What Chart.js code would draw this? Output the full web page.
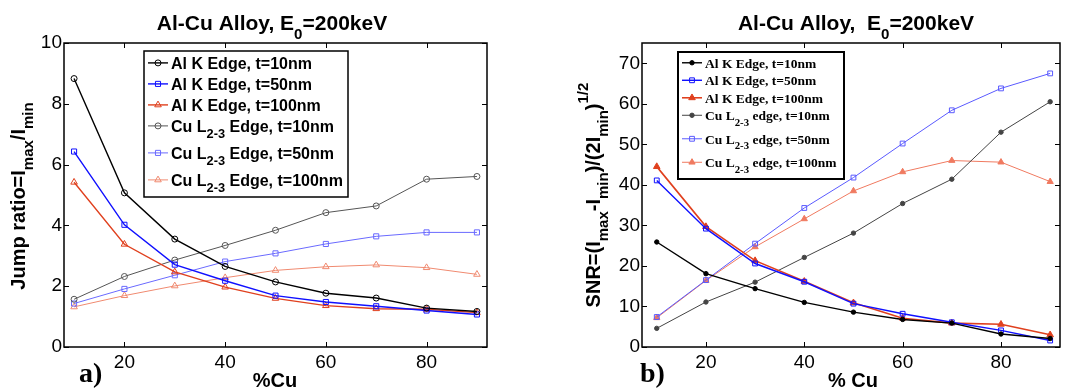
<!DOCTYPE html>
<html>
<head>
<meta charset="utf-8">
<script src="https://cdn.jsdelivr.net/npm/chart.js@4.4.0/dist/chart.umd.min.js"></script>
<style>
	body { margin: 0; background: #fff; }
	canvas { position: absolute; top: 0; }
</style>
</head>
<body>
<canvas id="chartA" width="535" height="390" style="left:0px"></canvas>
<canvas id="chartB" width="540" height="390" style="left:535px"></canvas>
<script>
// ---- data ----
const pctCu = [10, 20, 30, 40, 50, 60, 70, 80, 90];
const xTicks = [20, 40, 60, 80];
const jumpTicks = [0, 2, 4, 6, 8, 10];
const snrTicks = [0, 10, 20, 30, 40, 50, 60, 70];

const labelsA = [
	'Al K Edge, t=10nm',
	'Al K Edge, t=50nm',
	'Al K Edge, t=100nm',
	'Cu L_{2-3} Edge, t=10nm',
	'Cu L_{2-3} Edge, t=50nm',
	'Cu L_{2-3} Edge, t=100nm'
];
const labelsB = [
	'Al K Edge, t=10nm',
	'Al K Edge, t=50nm',
	'Al K Edge, t=100nm',
	'Cu L_{2-3} edge, t=10nm',
	'Cu L_{2-3} edge, t=50nm',
	'Cu L_{2-3} edge, t=100nm'
];

const jumpAlK10 = [8.83, 5.07, 3.55, 2.65, 2.14, 1.77, 1.61, 1.28, 1.17];
const jumpAlK50 = [6.43, 4.02, 2.71, 2.18, 1.69, 1.48, 1.34, 1.20, 1.07];
const jumpAlK100 = [5.42, 3.38, 2.47, 1.97, 1.60, 1.36, 1.26, 1.24, 1.13];
const jumpCuL10 = [1.57, 2.32, 2.86, 3.34, 3.84, 4.42, 4.64, 5.52, 5.61];
const jumpCuL50 = [1.43, 1.91, 2.36, 2.81, 3.08, 3.39, 3.64, 3.77, 3.77];
const jumpCuL100 = [1.32, 1.69, 2.01, 2.28, 2.52, 2.64, 2.70, 2.61, 2.39];

const snrAlK10 = [25.9, 18.1, 14.4, 11.0, 8.6, 6.8, 5.9, 3.2, 2.1];
const snrAlK50 = [41.1, 29.2, 20.6, 16.1, 10.7, 8.2, 6.1, 4.1, 1.6];
const snrAlK100 = [44.5, 29.7, 21.3, 16.2, 10.9, 7.1, 5.9, 5.6, 3.0];
const snrCuL10 = [4.6, 11.1, 16.0, 22.1, 28.1, 35.4, 41.4, 53.0, 60.5];
const snrCuL50 = [7.4, 16.5, 25.5, 34.3, 41.8, 50.2, 58.4, 63.8, 67.5];
const snrCuL100 = [7.2, 16.4, 24.7, 31.6, 38.5, 43.2, 46.0, 45.6, 40.8];

// ---- styles ----
const NONE = 'rgba(0,0,0,0)';
const stylesA = [
	{ color: '#000000', width: 1.4, point: 'circle', radius: 3, fill: NONE },
	{ color: '#1010ff', width: 1.4, point: 'rect', radius: 3.6, fill: NONE },
	{ color: '#e0401e', width: 1.4, point: 'triangle', radius: 3.8, fill: NONE },
	{ color: '#555555', width: 1, point: 'circle', radius: 3, fill: NONE },
	{ color: '#6a6aff', width: 1, point: 'rect', radius: 3.6, fill: NONE },
	{ color: '#f08a70', width: 1, point: 'triangle', radius: 3.8, fill: NONE }
];
const stylesB = [
	{ color: '#000000', width: 1.4, point: 'circle', radius: 2.2, fill: '#000000' },
	{ color: '#1010ff', width: 1.4, point: 'rect', radius: 3.4, fill: NONE },
	{ color: '#e0401e', width: 1.6, point: 'triangle', radius: 3.8, fill: '#e0401e' },
	{ color: '#444444', width: 1, point: 'circle', radius: 2.2, fill: '#444444' },
	{ color: '#5a5aff', width: 1, point: 'rect', radius: 3.4, fill: NONE },
	{ color: '#f07a60', width: 1, point: 'triangle', radius: 3.6, fill: '#f07a60' }
];

const SANS = "'Liberation Sans', Arial, sans-serif";
const SERIF = "'Liberation Serif', 'Times New Roman', serif";

// ---- rich text (sub/superscripts written as _{..} and ^{..}) ----
function richParts(str) {
	const out = [];
	const re = /([_^])\{([^}]*)\}/g;
	let last = 0, m;
	while ((m = re.exec(str))) {
		if (m.index > last) out.push({ t: str.slice(last, m.index), mode: '' });
		out.push({ t: m[2], mode: m[1] });
		last = re.lastIndex;
	}
	if (last < str.length) out.push({ t: str.slice(last), mode: '' });
	return out;
}

function drawRich(ctx, str, x, y, o) {
	const parts = richParts(str);
	const scale = o.scriptScale || 0.72;
	ctx.save();
	ctx.translate(x, y);
	if (o.rotate) ctx.rotate(o.rotate);
	ctx.fillStyle = o.color || '#000';
	ctx.textBaseline = 'alphabetic';
	ctx.textAlign = 'left';
	const fontOf = p => `${o.weight || 'bold'} ${p.mode ? o.size * scale : o.size}px ${o.family}`;
	let total = 0;
	parts.forEach(p => {
		ctx.font = fontOf(p);
		p.w = ctx.measureText(p.t).width;
		total += p.w;
	});
	let cx = o.align === 'center' ? -total / 2 : 0;
	parts.forEach(p => {
		ctx.font = fontOf(p);
		const dy = p.mode === '_' ? o.size * 0.42 : (p.mode === '^' ? -o.size * 0.6 : 0);
		ctx.fillText(p.t, cx, dy);
		cx += p.w;
	});
	ctx.restore();
}

// box round the plot with inward ticks on all four sides
const framePlugin = {
	id: 'frame',
	afterDraw(chart, args, opts) {
		const { ctx, chartArea: a, scales } = chart;
		const len = opts.tickLen || 5;
		ctx.save();
		ctx.strokeStyle = '#000';
		ctx.lineWidth = 1.5;
		ctx.strokeRect(a.left, a.top, a.right - a.left, a.bottom - a.top);
		ctx.lineWidth = 1;
		ctx.beginPath();
		scales.x.ticks.forEach(t => {
			const px = Math.round(scales.x.getPixelForValue(t.value)) + 0.5;
			ctx.moveTo(px, a.bottom); ctx.lineTo(px, a.bottom - len);
			ctx.moveTo(px, a.top); ctx.lineTo(px, a.top + len);
		});
		scales.y.ticks.forEach(t => {
			const py = Math.round(scales.y.getPixelForValue(t.value)) + 0.5;
			ctx.moveTo(a.left, py); ctx.lineTo(a.left + len, py);
			ctx.moveTo(a.right, py); ctx.lineTo(a.right - len, py);
		});
		ctx.stroke();
		ctx.restore();
	}
};

// titles, axis titles, panel letters and the boxed legend
const annotPlugin = {
	id: 'annot',
	afterDraw(chart, args, opts) {
		const ctx = chart.ctx;
		opts.texts.forEach(t => drawRich(ctx, t.str, t.x, t.y, t));

		const lg = opts.legend;
		const [bx, by, bw, bh] = lg.box;
		ctx.save();
		ctx.fillStyle = '#fff';
		ctx.fillRect(bx, by, bw, bh);
		ctx.strokeStyle = '#000';
		ctx.lineWidth = lg.border;
		ctx.strokeRect(bx, by, bw, bh);
		let y = lg.y0;
		chart.data.datasets.forEach((ds, i) => {
			if (i > 0) {
				const prevSub = chart.data.datasets[i - 1].label.includes('_{');
				y += prevSub ? lg.gapSub : lg.gapPlain;
			}
			const my = y - lg.size * 0.35;
			ctx.strokeStyle = ds.borderColor;
			ctx.lineWidth = ds.borderWidth;
			ctx.beginPath();
			ctx.moveTo(lg.lineX0, my);
			ctx.lineTo(lg.lineX1, my);
			ctx.stroke();
			ctx.fillStyle = ds.pointBackgroundColor;
			ctx.strokeStyle = ds.borderColor;
			ctx.lineWidth = 1;
			Chart.helpers.drawPoint(ctx, {
				pointStyle: ds.pointStyle, radius: ds.pointRadius, rotation: 0, borderWidth: 1
			}, (lg.lineX0 + lg.lineX1) / 2, my);
			drawRich(ctx, ds.label, lg.textX, y, { size: lg.size, family: lg.family, weight: 'bold', scriptScale: 0.8 });
		});
		ctx.restore();
	}
};

function makeDatasets(labels, seriesList, styles) {
	return labels.map((lab, i) => ({
		label: lab,
		data: pctCu.map((x, j) => ({ x: x, y: seriesList[i][j] })),
		borderColor: styles[i].color,
		borderWidth: styles[i].width,
		pointStyle: styles[i].point,
		pointRadius: styles[i].radius,
		pointBorderWidth: 1,
		pointBackgroundColor: styles[i].fill,
		pointBorderColor: styles[i].color,
		tension: 0,
		fill: false
	}));
}

function scaleSet(xMin, xMax, yMax, yTicks, yWidth) {
	const tickFont = { family: SANS, size: 19 };
	return {
		x: {
			type: 'linear', min: xMin, max: xMax,
			afterBuildTicks: s => { s.ticks = xTicks.map(v => ({ value: v })); },
			afterFit: s => { s.height = 43; },
			grid: { display: false, drawTicks: false },
			border: { display: false },
			ticks: { font: tickFont, color: '#000', padding: 4, maxRotation: 0 }
		},
		y: {
			type: 'linear', min: 0, max: yMax,
			afterBuildTicks: s => { s.ticks = yTicks.map(v => ({ value: v })); },
			afterFit: s => { s.width = yWidth; },
			grid: { display: false, drawTicks: false },
			border: { display: false },
			ticks: { font: tickFont, color: '#000', padding: 2 }
		}
	};
}

const configA = {
	type: 'line',
	data: { datasets: makeDatasets(labelsA, [jumpAlK10, jumpAlK50, jumpAlK100, jumpCuL10, jumpCuL50, jumpCuL100], stylesA) },
	options: {
		responsive: false,
		animation: false,
		layout: { padding: { top: 43, right: 48, left: 0, bottom: 0 } },
		scales: scaleSet(8, 92, 10, jumpTicks, 64),
		plugins: {
			legend: { display: false },
			tooltip: { enabled: false },
			frame: { tickLen: 5 },
			annot: {
				texts: [
					{ str: 'Al-Cu Alloy, E_{0}=200keV', x: 272, y: 30, size: 21, family: SANS, align: 'center' },
					{ str: 'Jump ratio=I_{max}/I_{min}', x: 25, y: 196, size: 20, family: SANS, align: 'center', rotate: -Math.PI / 2, scriptScale: 0.75 },
					{ str: '%Cu', x: 275, y: 387, size: 20, family: SANS, align: 'center' },
					{ str: 'a)', x: 79, y: 382, size: 28, family: SERIF }
				],
				legend: {
					box: [144, 51, 204, 146], border: 1.5,
					lineX0: 148, lineX1: 168, textX: 171,
					y0: 68.5, gapPlain: 21, gapSub: 27, size: 16, family: SANS
				}
			}
		}
	},
	plugins: [framePlugin, annotPlugin]
};

const configB = {
	type: 'line',
	data: { datasets: makeDatasets(labelsB, [snrAlK10, snrAlK50, snrAlK100, snrCuL10, snrCuL50, snrCuL100], stylesB) },
	options: {
		responsive: false,
		animation: false,
		layout: { padding: { top: 43, right: 15, left: 0, bottom: 0 } },
		scales: scaleSet(7, 92, 75, snrTicks, 107),
		plugins: {
			legend: { display: false },
			tooltip: { enabled: false },
			frame: { tickLen: 5 },
			annot: {
				texts: [
					{ str: 'Al-Cu Alloy,  E_{0}=200keV', x: 321, y: 30, size: 21, family: SANS, align: 'center' },
					{ str: 'SNR=(I_{max}-I_{min})/(2I_{min})^{1/2}', x: 65, y: 195, size: 20, family: SANS, align: 'center', rotate: -Math.PI / 2, scriptScale: 0.75 },
					{ str: '% Cu', x: 318, y: 387, size: 20, family: SANS, align: 'center' },
					{ str: 'b)', x: 105, y: 382, size: 28, family: SERIF }
				],
				legend: {
					box: [143, 52, 166, 127], border: 2,
					lineX0: 147, lineX1: 167, textX: 170,
					y0: 67.5, gapPlain: 17.5, gapSub: 23.5, size: 13.5, family: SERIF
				}
			}
		}
	},
	plugins: [framePlugin, annotPlugin]
};

const chartA = new Chart(document.getElementById('chartA'), configA);
const chartB = new Chart(document.getElementById('chartB'), configB);
</script>
</body>
</html>
